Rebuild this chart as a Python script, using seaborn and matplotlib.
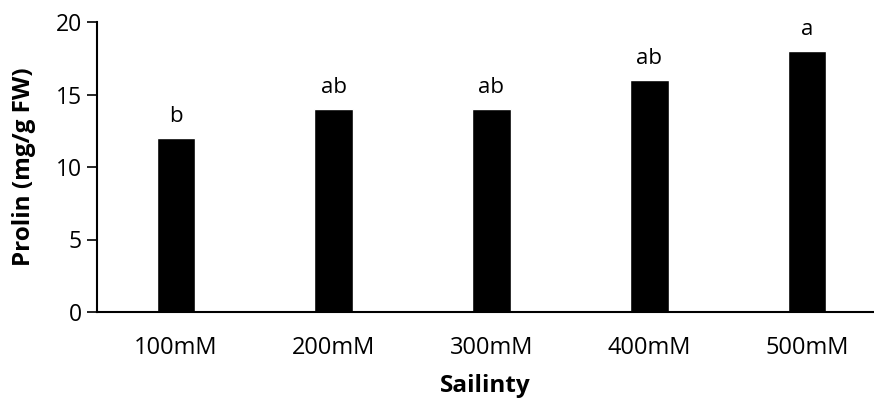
import matplotlib
matplotlib.use("Agg")
import pandas as pd
import matplotlib.pyplot as plt
import seaborn as sns

salinity = ["100mM", "200mM", "300mM", "400mM", "500mM"]
prolin = [12, 14, 14, 16, 18]
letters = ["b", "ab", "ab", "ab", "a"]

df = pd.DataFrame({"salinity": salinity, "prolin": prolin})

sns.set_style("white")
plt.rcParams["font.family"] = ["Open Sans", "DejaVu Sans"]
plt.rcParams.update({"text.color": "black", "axes.labelcolor": "black",
                     "xtick.color": "black", "ytick.color": "black"})

fig = plt.figure(figsize=(8.74, 4.08), dpi=100)
ax = fig.add_axes([97 / 874, 1 - 312 / 408, 1 - 97 / 874, 290 / 408])

sns.barplot(data=df, x="salinity", y="prolin", color="black", width=0.245,
            saturation=1, ax=ax)

# significance letters above bars
for i, (v, lab) in enumerate(zip(prolin, letters)):
    ax.annotate(lab, (i, v), xytext=(0, 8), textcoords="offset points",
                ha="center", va="bottom", fontsize=16, color="black")

ax.set_ylim(0, 20)
ax.set_yticks([0, 5, 10, 15, 20])
ax.set_xlim(-0.5, 4.424)
ax.set_xlabel("Sailinty", fontsize=17.5, fontweight="bold", labelpad=10)
ax.set_ylabel("Prolin (mg/g FW)", fontsize=17.5, fontweight="bold", labelpad=14)

for s in ["top", "right"]:
    ax.spines[s].set_visible(False)
for s in ["left", "bottom"]:
    ax.spines[s].set_color("black")
    ax.spines[s].set_linewidth(1.5)

ax.tick_params(axis="y", left=True, length=7, width=1.2, labelsize=16.5, pad=4,
               colors="black")
ax.tick_params(axis="x", bottom=False, labelsize=17, pad=14, colors="black")

fig.savefig("out.png", dpi=100)
